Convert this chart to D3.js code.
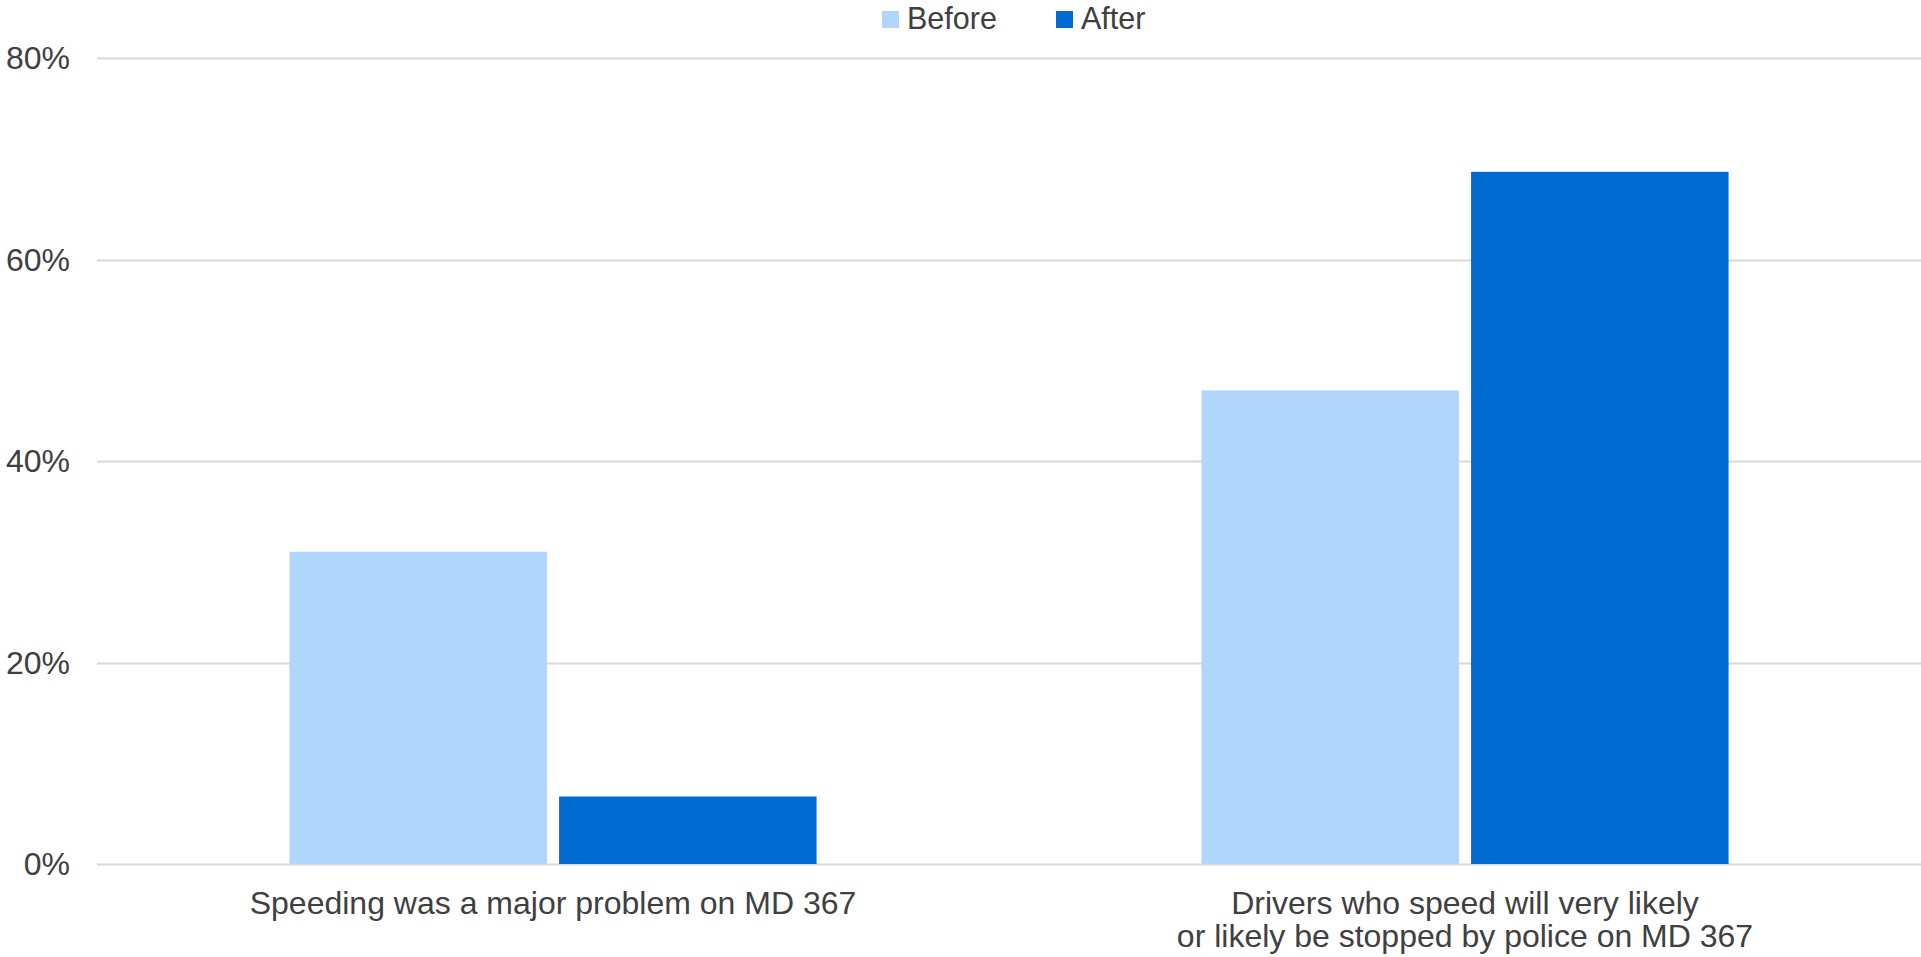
<!DOCTYPE html>
<html>
<head>
<meta charset="utf-8">
<script src="https://cdn.jsdelivr.net/npm/d3@7"></script>
<style>
  body { margin: 0; background: #fff; }
  svg { display: block; font-family: "Liberation Sans", Arial, sans-serif; }
</style>
</head>
<body>
<div id="chart"></div>
<script>
const categories = [
  ["Speeding was a major problem on MD 367"],
  ["Drivers who speed will very likely", "or likely be stopped by police on MD 367"]
];
const seriesNames = ["Before", "After"];
const beforeValues = [31, 47];
const afterValues = [6.7, 68.7];
const yTicks = [0, 20, 40, 60, 80];

const width = 1921, height = 957;
const marginTop = 58, marginRight = 0, marginBottom = 93, marginLeft = 97;
const colors = { Before: "#B1D6FE", After: "#0069D2" };
const textColor = "#404040";

const rows = categories.map((c, i) => ({ label: c, Before: beforeValues[i], After: afterValues[i] }));

const svg = d3.select("#chart").append("svg")
  .attr("width", width)
  .attr("height", height);

const x0 = d3.scaleBand()
  .domain(rows.map((d, i) => i))
  .range([marginLeft, width - marginRight])
  .paddingInner(0.422)
  .paddingOuter(0.211);

const x1 = d3.scaleBand()
  .domain(seriesNames)
  .range([0, x0.bandwidth()])
  .paddingInner(0.045);

const y = d3.scaleLinear()
  .domain([0, 80])
  .range([height - marginBottom, marginTop]);

// gridlines
svg.append("g")
  .selectAll("line")
  .data(yTicks)
  .join("line")
  .attr("x1", marginLeft)
  .attr("x2", width - marginRight)
  .attr("y1", d => Math.round(y(d)) + 0.5)
  .attr("y2", d => Math.round(y(d)) + 0.5)
  .attr("stroke", "#d9d9d9")
  .attr("stroke-width", 2);

// y labels
svg.append("g")
  .selectAll("text")
  .data(yTicks)
  .join("text")
  .attr("x", 70)
  .attr("y", d => y(d))
  .attr("dy", "0.35em")
  .attr("text-anchor", "end")
  .attr("fill", textColor)
  .style("font-size", "32px")
  .text(d => d + "%");

// bars
svg.append("g")
  .selectAll("g")
  .data(rows)
  .join("g")
  .attr("transform", (d, i) => `translate(${x0(i)},0)`)
  .selectAll("rect")
  .data(d => seriesNames.map(k => ({ key: k, value: d[k] })))
  .join("rect")
  .attr("x", d => x1(d.key))
  .attr("y", d => y(d.value))
  .attr("width", x1.bandwidth())
  .attr("height", d => y(0) - y(d.value))
  .attr("fill", d => colors[d.key]);

// x labels
const xl = svg.append("g")
  .selectAll("text")
  .data(rows)
  .join("text")
  .attr("x", (d, i) => x0(i) + x0.bandwidth() / 2)
  .attr("y", 914)
  .attr("text-anchor", "middle")
  .attr("fill", textColor)
  .style("font-size", "32px");
xl.selectAll("tspan")
  .data(d => d.label)
  .join("tspan")
  .attr("x", function() { return this.parentNode.getAttribute("x"); })
  .attr("dy", (d, i) => i === 0 ? 0 : 33)
  .text(d => d);

// legend
const legendX = [882, 1056];
const legend = svg.append("g")
  .selectAll("g")
  .data(seriesNames)
  .join("g")
  .attr("transform", (d, i) => `translate(${legendX[i]},0)`);
legend.append("rect")
  .attr("x", 0)
  .attr("y", 11)
  .attr("width", 17)
  .attr("height", 17)
  .attr("fill", d => colors[d]);
legend.append("text")
  .attr("x", 25)
  .attr("y", 29)
  .attr("fill", textColor)
  .style("font-size", "30.5px")
  .text(d => d);
</script>
</body>
</html>
